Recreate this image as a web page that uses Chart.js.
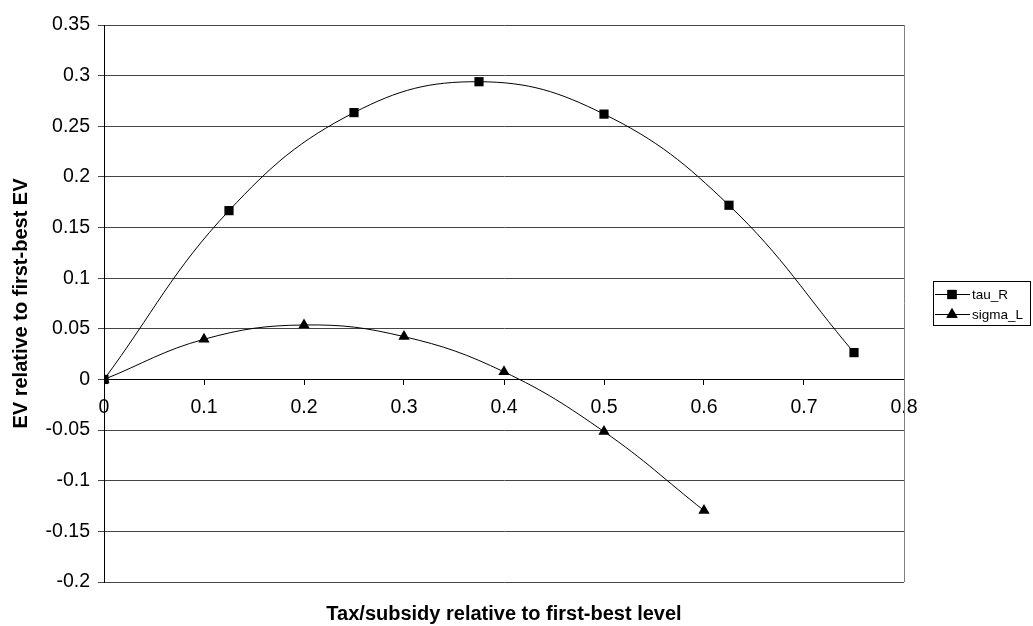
<!DOCTYPE html>
<html>
<head>
<meta charset="utf-8">
<script src="https://cdn.jsdelivr.net/npm/chart.js@4/dist/chart.umd.min.js"></script>
<style>
  html, body { margin: 0; padding: 0; background: #fff; }
  #wrap { width: 1033px; height: 626px; position: relative; }
</style>
</head>
<body>
<div id="wrap"><canvas id="evChart"></canvas></div>
<script>
// --- data ---
const tauX = [0, 0.125, 0.25, 0.375, 0.5, 0.625, 0.75];
const tauY = [0, 0.1667, 0.2635, 0.294, 0.262, 0.172, 0.0265];
const sigmaX = [0, 0.1, 0.2, 0.3, 0.4, 0.5, 0.6];
const sigmaY = [0, 0.0397, 0.0538, 0.0423, 0.0075, -0.0515, -0.1295];
const seriesNames = ['tau_R', 'sigma_L'];
const xRange = [0, 0.8, 0.1];      // min, max, step
const yRange = [-0.2, 0.35, 0.05];

const FONT = 'Arial, "Liberation Sans", sans-serif';

function toPoints(xs, ys) {
    return xs.map((x, i) => ({ x: x, y: ys[i] }));
}

// excel-ish labels: 0.3 not 0.30
function shortNum(value) {
    return String(parseFloat(value.toFixed(3)));
}

// plot frame on the right + legend box
const frameAndLegend = {
    id: 'frameAndLegend',
    afterDraw(chart) {
        const ctx = chart.ctx;
        const a = chart.chartArea;
        ctx.save();
        ctx.strokeStyle = '#808080';
        ctx.lineWidth = 1;
        ctx.beginPath();
        ctx.moveTo(Math.round(a.right) + 0.5, a.top);
        ctx.lineTo(Math.round(a.right) + 0.5, a.bottom);
        ctx.stroke();

        // legend
        const bx = 933.5, by = 281.5, bw = 97, bh = 44;
        ctx.strokeStyle = '#000';
        ctx.strokeRect(bx, by, bw, bh);
        ctx.font = '13.5px ' + FONT;
        ctx.textBaseline = 'middle';
        ctx.fillStyle = '#000';
        chart.data.datasets.forEach((ds, i) => {
            const y = 294 + i * 20;
            ctx.beginPath();
            ctx.moveTo(935, y + 0.5);
            ctx.lineTo(970, y + 0.5);
            ctx.stroke();
            Chart.helpers.drawPoint(ctx, {
                pointStyle: ds.pointStyle,
                radius: ds.pointRadius,
                borderWidth: 0
            }, 952, y + 0.5);
            ctx.fill();
            ctx.fillText(ds.label, 972, y + 1);
        });
        ctx.restore();
    }
};

const ctx = document.getElementById('evChart').getContext('2d');
new Chart(ctx, {
    type: 'scatter',
    data: {
        datasets: [{
            label: seriesNames[0],
            data: toPoints(tauX, tauY),
            showLine: true,
            tension: 0.4,
            borderColor: '#000',
            borderWidth: 1,
            pointStyle: 'rect',
            pointRadius: 6.5,
            pointBackgroundColor: '#000',
            pointBorderColor: '#000',
            pointBorderWidth: 0
        }, {
            label: seriesNames[1],
            data: toPoints(sigmaX, sigmaY),
            showLine: true,
            tension: 0.4,
            borderColor: '#000',
            borderWidth: 1,
            pointStyle: 'triangle',
            pointRadius: 6.5,
            pointBackgroundColor: '#000',
            pointBorderColor: '#000',
            pointBorderWidth: 0
        }]
    },
    options: {
        responsive: true,
        maintainAspectRatio: false,
        animation: false,
        layout: {
            padding: { left: 0, top: 25, right: 129, bottom: 0 }
        },
        plugins: {
            legend: { display: false },
            tooltip: { enabled: false },
            title: {
                display: true,
                position: 'bottom',
                fullSize: false,
                text: 'Tax/subsidy relative to first-best level',
                color: '#000',
                font: { family: FONT, size: 20, weight: 'bold', lineHeight: 1.2 },
                padding: { top: 20, bottom: 0 }
            }
        },
        scales: {
            x: {
                type: 'linear',
                position: { y: 0 },
                min: xRange[0],
                max: xRange[1],
                ticks: {
                    stepSize: xRange[2],
                    color: '#000',
                    padding: 11,
                    font: { family: FONT, size: 19.5 },
                    callback: shortNum
                },
                grid: {
                    drawOnChartArea: false,
                    drawTicks: true,
                    tickLength: 5,
                    color: '#000'
                },
                border: { display: true, color: '#000', width: 1 }
            },
            y: {
                type: 'linear',
                min: yRange[0],
                max: yRange[1],
                afterFit: function(scale) { scale.width = 104; },
                ticks: {
                    stepSize: yRange[2],
                    color: '#000',
                    padding: 8,
                    font: { family: FONT, size: 19.5 },
                    callback: shortNum
                },
                grid: {
                    color: '#444',
                    tickLength: 6
                },
                border: { display: true, color: '#000', width: 1 },
                title: {
                    display: true,
                    text: 'EV relative to first-best EV',
                    color: '#000',
                    font: { family: FONT, size: 20, weight: 'bold', lineHeight: 1.2 },
                    padding: { top: 9, bottom: 0 }
                }
            }
        }
    },
    plugins: [frameAndLegend]
});
</script>
</body>
</html>
